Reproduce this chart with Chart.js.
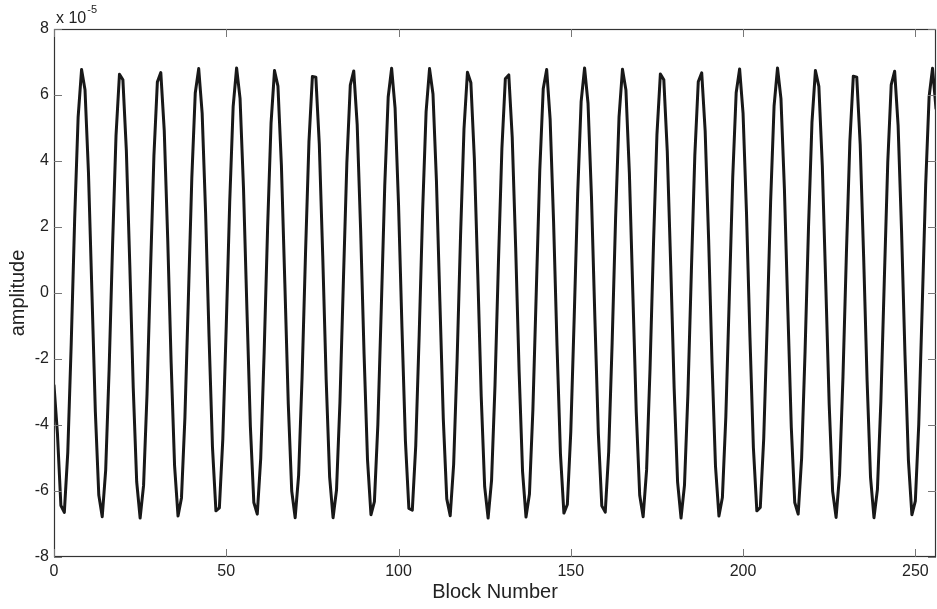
<!DOCTYPE html>
<html>
<head>
<meta charset="utf-8">
<title>amplitude</title>
<script src="https://cdn.jsdelivr.net/npm/chart.js@4.4.1/dist/chart.umd.min.js"></script>
<style>
  html, body { margin: 0; padding: 0; background: #fff; }
  #wrap { width: 937px; height: 609px; position: relative; }
</style>
</head>
<body>
<div id="wrap"><canvas id="ampChart"></canvas></div>
<script>
// amplitude per block, in units of 1e-5
const amplitude = [
  -2.80, -4.26, -6.44, -6.65, -4.83, -1.53, 2.24, 5.32, 6.77, 6.16,
  3.66, 0.04, -3.59, -6.12, -6.78, -5.37, -2.31, 1.45, 4.77, 6.63,
  6.46, 4.32, 0.85, -2.87, -5.72, -6.82, -5.83, -3.06, 0.64, 4.15,
  6.39, 6.68, 4.92, 1.66, -2.11, -5.24, -6.76, -6.21, -3.77, -0.17,
  3.48, 6.06, 6.80, 5.45, 2.44, -1.32, -4.68, -6.60, -6.51, -4.42,
  -0.99, 2.75, 5.65, 6.82, 5.90, 3.18, -0.51, -4.05, -6.35, -6.70,
  -5.01, -1.79, 1.98, 5.15, 6.74, 6.27, 3.88, 0.30, -3.36, -6.00,
  -6.81, -5.53, -2.56, 1.19, 4.58, 6.56, 6.54, 4.52, 1.12, -2.63,
  -5.57, -6.81, -5.97, -3.30, 0.38, 3.94, 6.30, 6.73, 5.10, 1.91,
  -1.86, -5.06, -6.72, -6.32, -3.99, -0.44, 3.25, 5.94, 6.81, 5.60,
  2.68, -1.06, -4.48, -6.53, -6.58, -4.62, -1.25, 2.50, 5.49, 6.80,
  6.03, 3.41, -0.25, -3.83, -6.24, -6.75, -5.19, -2.04, 1.73, 4.97,
  6.69, 6.37, 4.09, 0.57, -3.13, -5.87, -6.82, -5.68, -2.80, 0.93,
  4.37, 6.49, 6.61, 4.72, 1.38, -2.38, -5.41, -6.79, -6.09, -3.53,
  0.11, 3.72, 6.19, 6.77, 5.27, 2.17, -1.60, -4.88, -6.67, -6.41,
  -4.20, -0.70, 3.01, 5.80, 6.82, 5.75, 2.92, -0.80, -4.27, -6.45,
  -6.64, -4.81, -1.51, 2.26, 5.33, 6.78, 6.15, 3.64, 0.02, -3.61,
  -6.13, -6.78, -5.36, -2.29, 1.47, 4.79, 6.64, 6.46, 4.30, 0.83,
  -2.89, -5.73, -6.82, -5.82, -3.04, 0.67, 4.17, 6.40, 6.67, 4.91,
  1.64, -2.13, -5.25, -6.76, -6.20, -3.75, -0.15, 3.50, 6.07, 6.79,
  5.44, 2.42, -1.34, -4.69, -6.60, -6.50, -4.40, -0.96, 2.77, 5.66,
  6.82, 5.89, 3.16, -0.53, -4.07, -6.35, -6.70, -5.00, -1.76, 2.01,
  5.17, 6.74, 6.26, 3.86, 0.28, -3.38, -6.01, -6.80, -5.52, -2.54,
  1.21, 4.59, 6.57, 6.54, 4.50, 1.09, -2.65, -5.59, -6.81, -5.95,
  -3.28, 0.40, 3.96, 6.31, 6.72, 5.08, 1.89, -1.88, -5.08, -6.72,
  -6.31, -3.97, -0.41, 3.27, 5.95, 6.81, 5.59
];
const xTicks = [0, 50, 100, 150, 200, 250];
const yTicks = [-8, -6, -4, -2, 0, 2, 4, 6, 8];
const xTitle = "Block Number";
const yTitle = "amplitude";
const yExponent = "-5";

document.addEventListener("DOMContentLoaded", function () {
  initializeAmplitudeChart();

  function initializeAmplitudeChart() {
    var ctx = document.getElementById("ampChart").getContext("2d");

    var points = amplitude.map((v, i) => ({ x: i, y: v }));

    // matlab style box with inward ticks + the "x 10^-5" multiplier
    var boxPlugin = {
      id: "box",
      afterDraw: function (chart) {
        var c = chart.ctx;
        var a = chart.chartArea;
        var xs = chart.scales.x;
        var ys = chart.scales.y;
        c.save();
        c.strokeStyle = "#333";
        c.lineWidth = 1.2;
        c.strokeRect(a.left + 0.5, a.top + 0.5, a.right - a.left - 1, a.bottom - a.top - 1);
        c.strokeStyle = "#777";
        c.lineWidth = 1;
        xTicks.forEach((t) => {
          var px = Math.round(xs.getPixelForValue(t)) + 0.5;
          c.beginPath();
          c.moveTo(px, a.bottom);
          c.lineTo(px, a.bottom - 8);
          c.moveTo(px, a.top);
          c.lineTo(px, a.top + 8);
          c.stroke();
        });
        yTicks.forEach((t) => {
          var py = Math.round(ys.getPixelForValue(t)) + 0.5;
          c.beginPath();
          c.moveTo(a.left, py);
          c.lineTo(a.left + 8, py);
          c.moveTo(a.right, py);
          c.lineTo(a.right - 8, py);
          c.stroke();
        });
        c.fillStyle = "#222";
        c.textBaseline = "alphabetic";
        c.textAlign = "left";
        c.font = "16px 'Liberation Sans', Arial, sans-serif";
        c.fillText("x 10", a.left + 2, 23);
        var w = c.measureText("x 10").width;
        c.font = "11px 'Liberation Sans', Arial, sans-serif";
        c.fillText(yExponent, a.left + 3 + w, 13);
        c.restore();
      },
    };

    new Chart(ctx, {
      type: "line",
      data: {
        datasets: [
          {
            label: "",
            data: points,
            borderColor: "#181818",
            borderWidth: 3,
            borderJoinStyle: "round",
            borderCapStyle: "round",
            pointRadius: 0,
            tension: 0,
            fill: false,
          },
        ],
      },
      options: {
        responsive: true,
        maintainAspectRatio: false,
        animation: false,
        layout: {
          padding: { top: 29, right: 1, left: 0, bottom: 0 },
        },
        plugins: {
          legend: { display: false },
          tooltip: { enabled: false },
        },
        scales: {
          x: {
            type: "linear",
            min: 0,
            max: 256,
            afterBuildTicks: (scale) => {
              scale.ticks = xTicks.map((v) => ({ value: v }));
            },
            afterFit: (scale) => {
              scale.height = 52;
            },
            grid: { display: false, drawTicks: false },
            border: { display: false },
            ticks: {
              padding: 5,
              color: "#222",
              maxRotation: 0,
              font: { family: "'Liberation Sans', Arial, sans-serif", size: 16 },
            },
            title: {
              display: true,
              text: xTitle,
              color: "#222",
              padding: { top: 0, bottom: 5 },
              font: { family: "'Liberation Sans', Arial, sans-serif", size: 20 },
            },
          },
          y: {
            type: "linear",
            min: -8,
            max: 8,
            afterBuildTicks: (scale) => {
              scale.ticks = yTicks.map((v) => ({ value: v }));
            },
            afterFit: (scale) => {
              scale.width = 54;
            },
            grid: { display: false, drawTicks: false },
            border: { display: false },
            ticks: {
              padding: 5,
              color: "#222",
              font: { family: "'Liberation Sans', Arial, sans-serif", size: 16 },
            },
            title: {
              display: true,
              text: yTitle,
              color: "#222",
              padding: { top: 6, bottom: 0 },
              font: { family: "'Liberation Sans', Arial, sans-serif", size: 20 },
            },
          },
        },
      },
      plugins: [boxPlugin],
    });
  }
});
</script>
</body>
</html>
